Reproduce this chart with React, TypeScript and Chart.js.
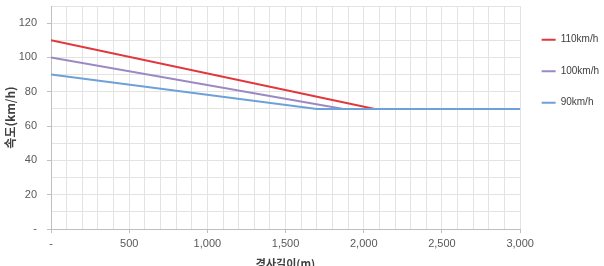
import React, { useEffect, useRef } from "react";
import { Chart, registerables } from "chart.js";

Chart.register(...registerables);

const seriesLabels = ["110km/h", "100km/h", "90km/h"];
const seriesColors = ["#e2373d", "#9b89c3", "#6da1d8"];
const distance110 = [0, 2070, 3000];
const speed110 = [110, 70, 70];
const distance100 = [0, 1870, 3000];
const speed100 = [100, 70, 70];
const distance90 = [0, 1700, 3000];
const speed90 = [90, 70, 70];

const xTitle = "경사길이(m)";
const yTitle = "속도(km/h)";

const toPoints = (xs: number[], ys: number[]) => xs.map((x, i) => ({ x, y: ys[i] }));

const CANVAS_W = 604;
const CANVAS_H = 270;

export default function App() {
  const ref = useRef<HTMLCanvasElement | null>(null);
  useEffect(() => {
    if (!ref.current) return;
    const datasets = [
      toPoints(distance110, speed110),
      toPoints(distance100, speed100),
      toPoints(distance90, speed90),
    ].map((data, i) => ({
      label: seriesLabels[i],
      data,
      borderColor: seriesColors[i],
      backgroundColor: seriesColors[i],
      borderWidth: 2,
      pointRadius: 0,
      showLine: true,
      tension: 0,
      order: 2 - i,
    }));
    const tickFont = { family: "'Liberation Sans', Arial, sans-serif", size: 11 };
    const chart = new Chart(ref.current, {
      type: "scatter",
      data: { datasets },
      options: {
        animation: false,
        responsive: false,
        layout: { padding: { left: 0, top: 0, right: -5, bottom: 0 } },
        plugins: {
          tooltip: { enabled: false },
          legend: {
            position: "right",
            align: "start",
            title: { display: true, text: " ", font: { size: 6 }, padding: 3 },
            labels: {
              usePointStyle: true,
              pointStyle: "line",
              pointStyleWidth: 14,
              boxHeight: 8,
              padding: 21.5,
              color: "#404040",
              font: { family: "'Liberation Sans', Arial, sans-serif", size: 10 },
              sort: (a: any, b: any) => a.datasetIndex - b.datasetIndex,
            },
          },
        },
        scales: {
          x: {
            type: "linear",
            min: 0,
            max: 3000,
            afterFit: (s: any) => {
              s.height = CANVAS_H - 229;
              s.paddingLeft = 0;
              s.paddingRight = 0;
            },
            border: { color: "#bfbfbf" },
            grid: {
              color: "#e3e3e3",
              tickLength: 4,
              tickColor: (ctx: any) => (ctx.tick && ctx.tick.value % 500 === 0 ? "#bfbfbf" : "rgba(0,0,0,0)"),
            },
            ticks: {
              stepSize: 100,
              autoSkip: false,
              maxRotation: 0,
              color: "#595959",
              font: tickFont,
              padding: 4,
              callback: (v: any) => {
                const n = Number(v);
                if (n % 500 !== 0) return "";
                return n === 0 ? "-" : n.toLocaleString("en-US");
              },
            },
            title: {
              display: true,
              text: xTitle,
              color: "#404040",
              font: { family: "'Noto Sans CJK KR', sans-serif", size: 11, weight: "bold" },
              padding: { top: 2, bottom: 0 },
            },
          },
          y: {
            type: "linear",
            min: 0,
            max: 130,
            afterFit: (s: any) => {
              s.width = 51;
              s.paddingTop = 6;
              s.paddingBottom = 0;
            },
            border: { color: "#bfbfbf" },
            grid: {
              color: "#e3e3e3",
              tickLength: 4,
              tickColor: (ctx: any) =>
                ctx.tick && ctx.tick.value % 20 === 0 && ctx.tick.value <= 120 ? "#bfbfbf" : "rgba(0,0,0,0)",
            },
            ticks: {
              stepSize: 10,
              autoSkip: false,
              color: "#595959",
              font: tickFont,
              padding: 10,
              callback: (v: any) => {
                const n = Number(v);
                if (n % 20 !== 0 || n > 120) return "";
                return n === 0 ? "-" : String(n);
              },
            },
            title: {
              display: true,
              text: yTitle,
              color: "#404040",
              font: { family: "'Noto Sans CJK KR', sans-serif", size: 12, weight: "bold" },
              padding: { top: 3, bottom: 0 },
            },
          },
        },
      },
    });
    return () => chart.destroy();
  }, []);
  return (
    <div style={{ position: "fixed", left: 0, top: 0, width: CANVAS_W, height: CANVAS_H, background: "#fff" }}>
      <canvas ref={ref} width={CANVAS_W} height={CANVAS_H} style={{ display: "block" }} />
    </div>
  );
}
